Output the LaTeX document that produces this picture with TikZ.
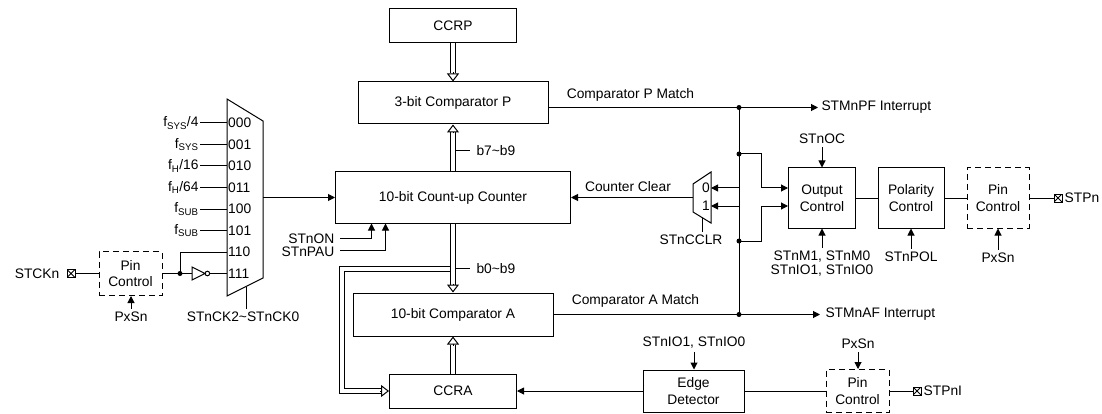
\documentclass[tikz,border=0pt]{standalone}
\usepackage{fontspec}
\setmainfont{Liberation Sans}
\usetikzlibrary{arrows.meta,calc}

\newcommand\boxfont{\fontsize{13.8}{16.5}\selectfont}
\newcommand\lblfont{\fontsize{13.8}{14}\selectfont}

\tikzset{
  box/.style={draw, line width=1pt, align=center, inner sep=0pt, font=\boxfont},
  pinbox/.style={box, dash pattern=on 6pt off 4pt, minimum width=63pt},
  lbl/.style={inner sep=3pt, align=center, font=\lblfont},
  wire/.style={line width=1pt},
  sig/.style={wire, -{Triangle[length=7pt,width=7pt]}},
  bus/.style={line width=1pt, double, double distance=4pt},
  bustip/.style={line width=1pt, -{Triangle[open,length=8pt,width=12pt]}},
  dot/.style={circle, fill, inner sep=0pt, minimum size=5pt},
  pinsq/.style={draw, line width=1pt, minimum size=8pt, inner sep=0pt,
    path picture={\draw[line width=0.8pt]
      (path picture bounding box.north west) -- (path picture bounding box.south east)
      (path picture bounding box.south west) -- (path picture bounding box.north east);}}
}

\begin{document}
\begin{tikzpicture}[x=1pt, y=-1pt]
\useasboundingbox (0,0) rectangle (1102,414);

% main column
\node[box, minimum width=127pt, minimum height=34pt] (ccrp) at (453,26) {CCRP};
\node[box, minimum width=190pt, minimum height=42pt] (compp) at (453,103) {3-bit Comparator P};
\node[box, minimum width=235pt, minimum height=51pt] (counter) at (453,197.5) {10-bit Count-up Counter};
\node[box, minimum width=200pt, minimum height=43pt] (compa) at (453,314.5) {10-bit Comparator A};
\node[box, minimum width=127pt, minimum height=34pt] (ccra) at (453,391) {CCRA};

% buses
\coordinate (tap) at ($(counter.south)+(-2.5,45.5)$);
\draw[bus, shorten >=8pt] (tap) -| ($(ccra.west)+(-47.5,0)$) -- (ccra.west);
\draw[bustip] ($(ccra.west)+(-9,0)$) -- (ccra.west);
\draw[bus, shorten >=8pt] (ccrp.south) -- (compp.north);
\draw[bustip] ($(compp.north)+(0,-9)$) -- (compp.north);
\draw[bus, shorten >=8pt] (counter.north) -- (compp.south);
\draw[bustip] ($(compp.south)+(0,9)$) -- (compp.south);
\draw[bus, shorten >=8pt] (counter.south) -- (compa.north);
\draw[bustip] ($(compa.north)+(0,-9)$) -- (compa.north);
\draw[bus, shorten >=8pt] (ccra.north) -- (compa.south);
\draw[bustip] ($(compa.south)+(0,9)$) -- (compa.south);
\draw[wire] ($(counter.north)+(3,-21)$) -- ++(14,0) node[lbl, right=6pt, inner sep=0pt] (b79) {b7\textasciitilde b9};
\draw[wire] ($(counter.south)+(3,45)$) -- ++(14,0) node[lbl, right=6pt, inner sep=0pt] (b09) {b0\textasciitilde b9};

% clock select
\draw[wire] (227,99) -- (263,121) -- (263,278) -- (227,296) -- cycle;
\foreach \bits [count=\i from 0] in {000,001,010,011,100,101,110,111} {
  \coordinate (in\i) at (227,{123+21.5*\i});
  \node[lbl, anchor=west, inner sep=1pt] (bit\i) at (in\i) {\bits};
}
\foreach \src [count=\i from 0] in {f\textsubscript{SYS}/4, f\textsubscript{SYS}, f\textsubscript{H}/16, f\textsubscript{H}/64, f\textsubscript{SUB}, f\textsubscript{SUB}}
  \draw[wire] (in\i) -- ++(-27,0) node[lbl, left, inner sep=1pt] (src\i) {\src};
\coordinate (ckout) at (263,197.5);
\draw[sig] (ckout) -- (ckout -| counter.west);
\coordinate (cksel) at (246,286.5);
\node[lbl] (ckseltext) at (243,317) {STnCK2\textasciitilde STnCK0};
\draw[wire] (cksel) -- (cksel |- ckseltext.north);

% STCKn pin
\node[pinbox, minimum height=44pt] (pinl) at (130.5,273.5) {Pin\\Control};
\node[pinsq] (sqckn) at (71,273.5) {};
\node[lbl, left=4pt] (stckn) at (sqckn.west) {STCKn};
\draw[wire] (sqckn) -- (pinl);
\node[lbl] (pxsnl) at (131,317) {PxSn};
\draw[sig] (pxsnl) -- (pxsnl |- pinl.south);
\coordinate (ckj) at (180,273.5);
\coordinate (invin) at (192,273.5);
\draw[wire] (pinl) -- (ckj) -- (invin);
\draw[wire] (ckj) |- (in6);
\draw[wire] (invin) ++(0,-6.5) -- ++(13,6.5) -- ++(-13,6.5) -- cycle;
\draw[wire] (207.4,273.5) circle (2.3);
\draw[wire] (209.7,273.5) -- (in7);
\node[dot] (dotckj) at (ckj) {};

% control inputs
\node[lbl, anchor=east, inner sep=0.5pt] (stnon) at (335,238.5) {STnON};
\node[lbl, anchor=east, inner sep=0.5pt] (stnpau) at (335,251.5) {STnPAU};
\draw[sig] ($(stnon.east)+(5,0)$) -| ($(counter.south west)+(36.5,0)$);
\draw[sig] ($(stnpau.east)+(5,-1.5)$) -| ($(counter.south west)+(50.5,0)$);

% counter clear select
\draw[wire] (693,184) -- (711,172) -- (711,223) -- (693,212) -- cycle;
\coordinate (ccout) at (693,197.5);
\coordinate (cc0) at (711,188);
\coordinate (cc1) at (711,206);
\node[lbl, left, inner sep=1pt] (ccbit0) at (cc0) {0};
\node[lbl, left, inner sep=1pt] (ccbit1) at (cc1) {1};
\draw[sig] (ccout) -- (ccout -| counter.east);
\node[lbl] (cclbl) at (628,187) {Counter Clear};
\coordinate (ccsel) at (702,217.5);
\node[lbl] (ccseltext) at (691,240) {STnCCLR};
\draw[wire] (ccsel) -- (ccsel |- ccseltext.north);

% match outputs
\coordinate (pj) at (739,107.5);
\coordinate (aj) at (739,314.5);
\coordinate (j1) at (739,154);
\coordinate (j2) at (739,241);
\draw[wire] (compp.east |- pj) -- (pj);
\node[lbl] (pmatch) at (630.5,95) {Comparator P Match};
\draw[sig] (pj) -- ++(79,0) node[lbl, right] (pint) {STMnPF Interrupt};
\draw[wire] (compa.east) -- (aj);
\node[lbl] (amatch) at (635.5,301) {Comparator A Match};
\draw[sig] (aj) -- ++(81,0) node[lbl, right, inner sep=5pt] (aint) {STMnAF Interrupt};
\draw[wire] (pj) -- (aj);
\draw[sig] (j1 |- cc0) -- (cc0);
\draw[sig] (j2 |- cc1) -- (cc1);

% output path
\node[box, minimum width=67pt, minimum height=60pt] (outc) at (822,198) {Output\\Control};
\node[box, minimum width=66pt, minimum height=60pt] (polc) at (911,198) {Polarity\\Control};
\node[pinbox, minimum width=62pt, minimum height=60pt] (pinr) at (998,198) {Pin\\Control};
\draw[sig] (j1) -| ($(outc.west)+(-27,-10)$) -- ($(outc.west)+(0,-10)$);
\draw[sig] (j2) -| ($(outc.west)+(-27,8)$) -- ($(outc.west)+(0,8)$);
\foreach \j in {pj,aj,j1,j2}
  \node[dot] (dot\j) at (\j) {};
\draw[wire] (outc) -- (polc);
\draw[wire] (polc) -- (pinr);
\node[pinsq] (sqpn) at (1058,198) {};
\draw[wire] (pinr) -- (sqpn);
\node[lbl, right, inner sep=2pt] (stpn) at (sqpn.east) {STPn};
\node[lbl] (stnoc) at (822,139) {STnOC};
\draw[sig] (stnoc) -- (outc);
\node[lbl] (stnm) at (822,264) {STnM1, STnM0\\STnIO1, STnIO0};
\draw[sig] (stnm) -- (outc);
\node[lbl] (stnpol) at (911,257) {STnPOL};
\draw[sig] (stnpol) -- (polc);
\node[lbl] (pxsnr) at (998,258) {PxSn};
\draw[sig] (pxsnr) -- (pinr);

% capture input
\node[box, minimum width=101pt, minimum height=42pt] (edge) at (693.5,391) {Edge\\Detector};
\node[pinbox, minimum height=43pt] (pinb) at (857.5,391) {Pin\\Control};
\draw[sig] (edge) -- (ccra);
\draw[wire] (pinb) -- (edge);
\node[pinsq] (sqpni) at (917,391) {};
\draw[wire] (pinb) -- (sqpni);
\node[lbl, right, inner sep=2pt] (stpni) at (sqpni.east) {STPnI};
\node[lbl] (stnio) at (694,343) {STnIO1, STnIO0};
\draw[sig] (stnio) -- (stnio |- edge.north);
\node[lbl] (pxsnb) at (858,344) {PxSn};
\draw[sig] (pxsnb) -- (pxsnb |- pinb.north);
\end{tikzpicture}
\end{document}
